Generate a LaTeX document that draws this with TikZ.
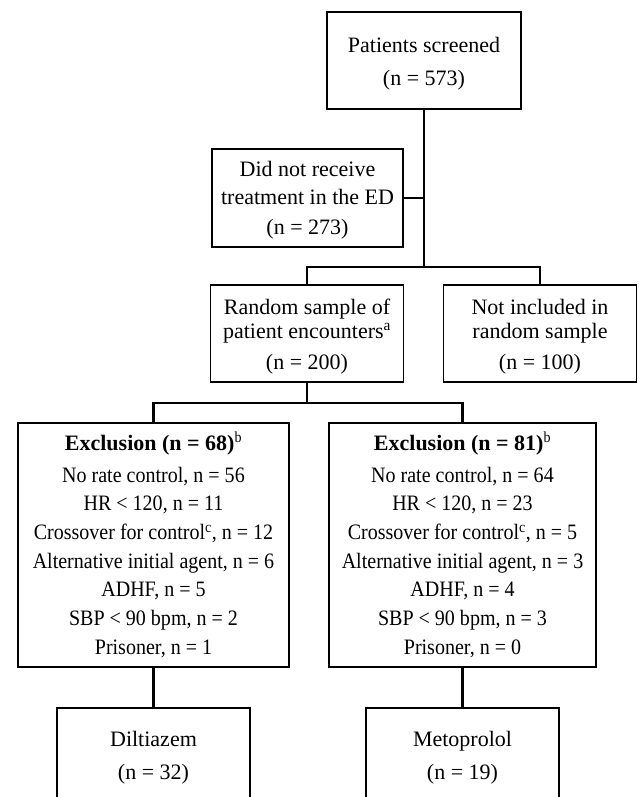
\documentclass[tikz,border=0pt]{standalone}
\usepackage{fontspec}
\setmainfont{Liberation Serif}
\newfontfamily\narrowfont{Liberation Serif}[FakeStretch=0.91]
\usetikzlibrary{positioning}

\newcommand{\topstrut}[1]{\rule{0pt}{#1pt}}

\tikzset{
  box/.style={draw, line width=1.6pt, align=center, inner sep=0pt,
    font=\fontsize{22}{28.7}\selectfont},
  smallbox/.style={box, minimum width=193pt, minimum height=97pt},
  exclbox/.style={box, minimum height=244pt,
    font=\fontsize{22}{28.7}\narrowfont},
  link/.style={line width=2.4pt},
}

\begin{document}
\begin{tikzpicture}[x=1pt, y=-1pt]
  \useasboundingbox (0,0) rectangle (638,797);
  % Screening and first split
  \node[smallbox, minimum width=194pt] (screened) at (424,60.5)
    {\topstrut{21}Patients screened\\[4pt](n = 573)};
  \node[smallbox, minimum width=191pt, minimum height=98pt] (noED) at (307.5,198)
    {\topstrut{20}Did not receive\\[-1pt]treatment in the ED\\[1pt](n = 273)};
  \node[smallbox] (sample) at (307,333.5)
    {\topstrut{22}Random sample of\\[-5pt]patient encounters\textsuperscript{a}\\[3pt](n = 200)};
  \node[smallbox] (notsample) at (540,333.5)
    {\topstrut{22}Not included in\\[-5pt]random sample\\[3pt](n = 100)};
  % Exclusions
  \node[exclbox, minimum width=271pt] (exclA) at (153.5,545)
    {\topstrut{18}{\rmfamily\bfseries Exclusion (n = 68)}\textsuperscript{b}\\[3pt]
     No rate control, n = 56\\
     HR < 120, n = 11\\
     Crossover for control\textsuperscript{c}, n = 12\\
     Alternative initial agent, n = 6\\
     ADHF, n = 5\\
     SBP < 90 bpm, n = 2\\
     Prisoner, n = 1};
  \node[exclbox, minimum width=267pt] (exclB) at (462.5,545)
    {\topstrut{18}{\rmfamily\bfseries Exclusion (n = 81)}\textsuperscript{b}\\[3pt]
     No rate control, n = 64\\
     HR < 120, n = 23\\
     Crossover for control\textsuperscript{c}, n = 5\\
     Alternative initial agent, n = 3\\
     ADHF, n = 4\\
     SBP < 90 bpm, n = 3\\
     Prisoner, n = 0};
  % Study groups (cut at the bottom edge)
  \node[smallbox, minimum height=95pt] (dilt) at (153.5,755.5)
    {\topstrut{19}Diltiazem\\[4pt](n = 32)};
  \node[smallbox, minimum height=95pt] (meto) at (462.5,755.5)
    {\topstrut{19}Metoprolol\\[4pt](n = 19)};
  % Connectors
  \draw[link] (screened.south) -- ++(0,157) coordinate (fork1);
  \draw[link] (noED.east) -- (noED.east -| screened.south);
  \draw[link] (sample.north) |- (fork1) -| (notsample.north);
  \draw[link] (sample.south) -- ++(0,20) coordinate (fork2);
  \draw[link] (exclA.north) |- (fork2) -| (exclB.north);
  \draw[link] (exclA.south) -- (dilt.north);
  \draw[link] (exclB.south) -- (meto.north);
\end{tikzpicture}
\end{document}
